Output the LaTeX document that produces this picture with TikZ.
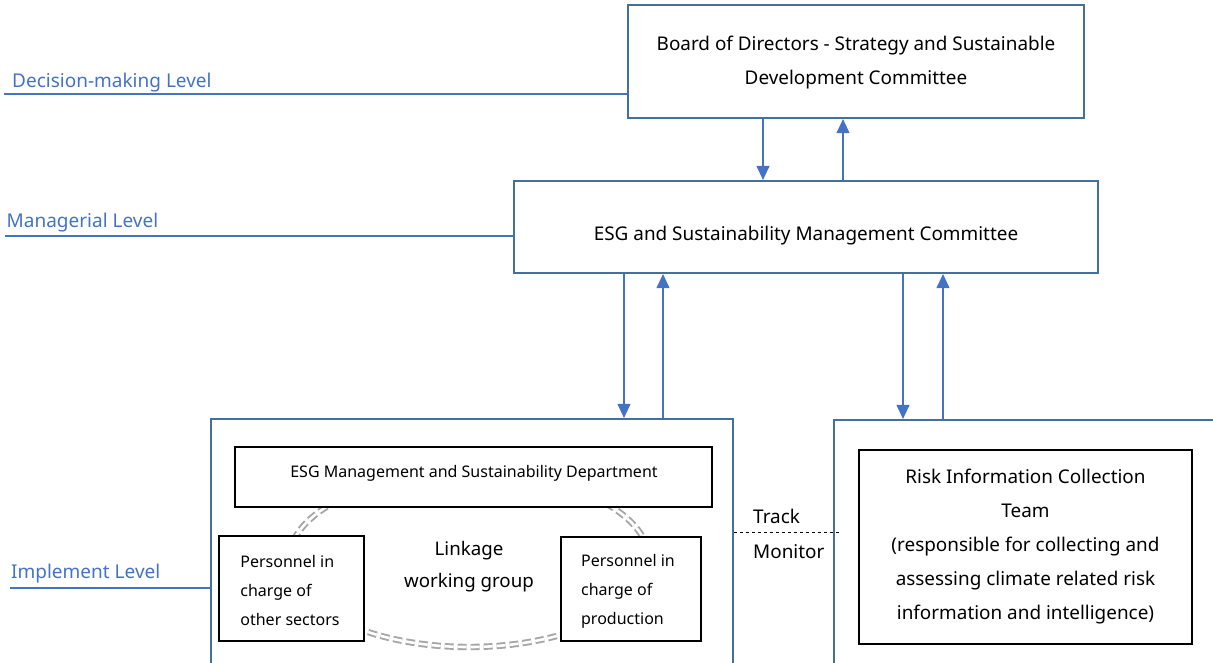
\documentclass[tikz,border=0pt]{standalone}
\usepackage{fontspec}
\setmainfont{Noto Sans}
\usetikzlibrary{arrows.meta}
\definecolor{frameblue}{HTML}{41719C}
\definecolor{linkblue}{HTML}{4472C4}
\definecolor{ringgray}{HTML}{A6A6A6}
\begin{document}
\begin{tikzpicture}[x=1pt,y=-1pt,
  outerbox/.style={draw=frameblue, line width=2.2pt, fill=white, inner sep=0pt},
  innerbox/.style={draw=black, line width=1.6pt, fill=white, inner sep=0pt},
  levellabel/.style={text=linkblue, font=\fontsize{19}{22}\selectfont, anchor=base west, inner sep=0pt},
  levelline/.style={draw=linkblue, line width=1.1pt},
  flow/.style={draw=linkblue, line width=1.1pt, -{Triangle[width=13pt,length=14pt]}},
  ring/.style={draw=ringgray, line width=1.9pt, double=white, double distance=2.6pt, dash pattern=on 9pt off 4pt},
  bigtext/.style={font=\fontsize{18.9}{34}\selectfont},
  smalltext/.style={font=\fontsize{16}{29}\selectfont}
]
\useasboundingbox (0,0) rectangle (1213,662);

% level labels and their guide lines
\node[levellabel] (lvdec) at (12,87) {Decision-making Level};
\node[levellabel] (lvman) at (6.5,227) {Managerial Level};
\node[levellabel] (lvimp) at (11,578) {Implement Level};

% decision and managerial bodies
\node[outerbox, minimum width=456pt, minimum height=113pt] (board) at (856,61.5) {};
\node[bigtext, align=center] (boardtext) at (856,63)
  {Board of Directors - Strategy and Sustainable\\Development Committee};
\node[outerbox, minimum width=584pt, minimum height=92pt] (mgmt) at (806,227) {};
\node[bigtext] (mgmttext) at (806,236) {ESG and Sustainability Management Committee};

\coordinate (dstart) at (4,94);
\coordinate (mstart) at (5,236);
\coordinate (istart) at (10,588);
\draw[levelline] (dstart) -- (dstart -| board.west);
\draw[levelline] (mstart) -- (mstart -| mgmt.west);

% implementation level frames
\node[outerbox, minimum width=522pt, minimum height=252pt] (implL) at (472,545) {};
\node[outerbox, minimum width=400pt, minimum height=252pt] (implR) at (1034,546) {};
\draw[levelline] (istart) -- (istart -| implL.west);

% linkage ring behind the working-group boxes
\draw[ring] (469,560) ellipse [x radius=180pt, y radius=87pt];

\node[innerbox, minimum width=477pt, minimum height=60pt] (dept) at (473.5,477) {};
\node[smalltext] (depttext) at (474,473) {ESG Management and Sustainability Department};
\node[innerbox, minimum width=145pt, minimum height=105pt] (other) at (291.5,588.5) {};
\node[smalltext, align=left] (othertext) at (290,590.5) {Personnel in\\charge of\\other sectors};
\node[innerbox, minimum width=140pt, minimum height=104pt] (prod) at (631,589) {};
\node[smalltext, align=left] (prodtext) at (628,591) {Personnel in\\charge of\\production};
\node[align=center, font=\fontsize{18.7}{32}\selectfont] (link) at (469,567) {Linkage\\working group};

\node[innerbox, bigtext, minimum width=333pt, minimum height=194pt, align=center] (risk) at (1025.5,547)
  {Risk Information Collection\\Team\\(responsible for collecting and\\assessing climate related risk\\information and intelligence)};

% track / monitor link
\coordinate (tm) at (0,532);
\draw[dashed, line width=0.8pt, shorten >=-6pt] (implL.east |- tm) -- (implR.west |- tm);
\node[bigtext, anchor=base west, inner sep=0pt] (track) at (753,523) {Track};
\node[bigtext, anchor=base west, inner sep=0pt] (monitor) at (753,558) {Monitor};

% reporting arrows
\coordinate (a1) at (763,0);
\coordinate (a2) at (843,0);
\coordinate (a3) at (624,0);
\coordinate (a4) at (663,0);
\coordinate (a5) at (903,0);
\coordinate (a6) at (943,0);
\draw[flow] (a1 |- board.south) -- (a1 |- mgmt.north);
\draw[flow] (a2 |- mgmt.north) -- (a2 |- board.south);
\draw[flow] (a3 |- mgmt.south) -- (a3 |- implL.north);
\draw[flow] (a4 |- implL.north) -- (a4 |- mgmt.south);
\draw[flow] (a5 |- mgmt.south) -- (a5 |- implR.north);
\draw[flow] (a6 |- implR.north) -- (a6 |- mgmt.south);
\end{tikzpicture}
\end{document}
